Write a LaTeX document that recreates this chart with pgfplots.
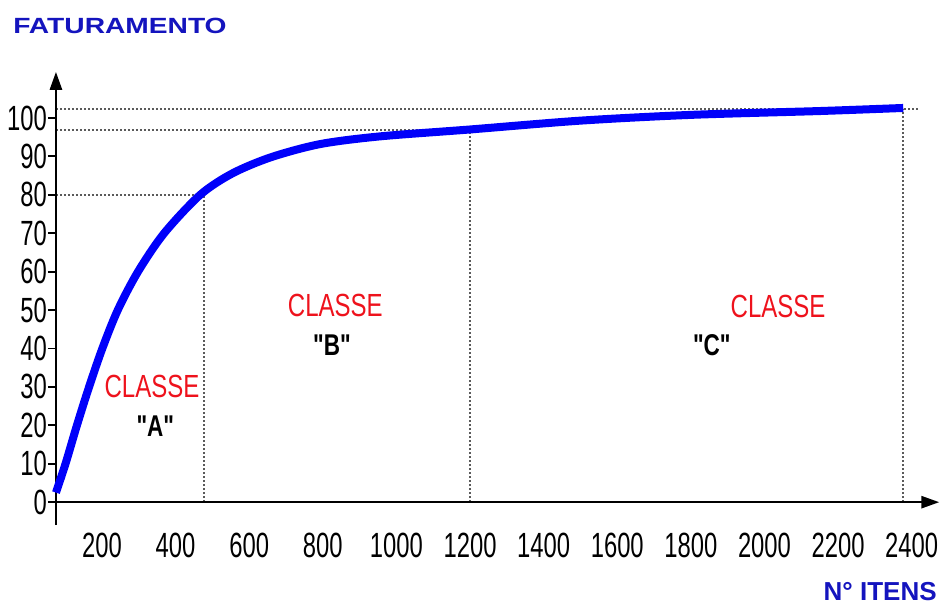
\documentclass[border=0pt]{standalone}
\usepackage{fontspec}
\setmainfont{Liberation Sans}
\newfontfamily\narrow[FakeStretch=0.68]{Liberation Sans}
\newfontfamily\classfont[FakeStretch=0.75]{Liberation Sans}
\newfontfamily\wide[FakeStretch=1.28]{Liberation Sans}
\usepackage{pgfplots}
\pgfplotsset{compat=1.18}
\usetikzlibrary{arrows.meta}
\definecolor{titleblue}{RGB}{20,20,190}
\definecolor{classred}{RGB}{238,18,28}
\definecolor{curveblue}{RGB}{0,0,250}
\definecolor{dotgray}{RGB}{90,90,90}

\begin{document}
\begin{tikzpicture}
  \begin{axis}[
      scale only axis,
      width=441.5pt, height=226.6pt,
      xmin=75, xmax=2475,
      ymin=-6, ymax=112,
      clip=false,
      axis line style={draw=none},
      xtick={200,400,...,2400},
      ytick={0,10,...,100},
      xtick style={draw=none},
      ytick pos=left,
      tick align=outside,
      major tick length=4pt,
      ytick style={line width=0.9pt, black},
      /pgf/number format/assume math mode=true,
      /pgf/number format/1000 sep={},
      ticklabel style={font=\narrow\fontsize{17.5}{19}\selectfont},
      xticklabel style={yshift=3.5pt},
      yticklabel style={xshift=3pt},
    ]
    % guide lines
    \addplot[dotgray, densely dotted, line width=1pt] coordinates {(75,102.3) (2418,102.3)};
    \addplot[dotgray, densely dotted, line width=1pt] coordinates {(75,96.9) (1200,96.9)};
    \addplot[dotgray, densely dotted, line width=1pt] coordinates {(75,80) (477,80)};
    \addplot[dotgray, densely dotted, line width=1pt] coordinates {(477,0) (477,80)};
    \addplot[dotgray, densely dotted, line width=1pt] coordinates {(1200,0) (1200,96.9)};
    \addplot[dotgray, densely dotted, line width=1pt] coordinates {(2377,0) (2377,102.3)};

    % axes
    \draw[line width=1.3pt, -{Triangle[width=6pt,length=9pt]}] (axis cs:75,-6) -- (axis cs:75,112);
    \draw[line width=1.3pt, -{Triangle[width=6pt,length=9pt]}] (axis cs:75,0) -- (axis cs:2475,0);

    % ABC curve
    \addplot[curveblue, line width=4pt, smooth] coordinates {
      (75,2.5) (101,10) (132,20) (165,30) (201,40) (243,50) (298,60)
      (369,70) (467,80) (555,85.6) (660,89.8) (793,93.2) (955,95.2)
      (1200,97) (1500,99.3) (1800,100.8) (2150,101.8) (2377,102.6)
    };

    \node[classred, font=\classfont\fontsize{16}{18}\selectfont, inner sep=0] at (axis cs:336,30) {CLASSE};
    \node[font=\classfont\bfseries\fontsize{15}{17}\selectfont, inner sep=0] at (axis cs:345,19.8) {"A"};
    \node[classred, font=\classfont\fontsize{16}{18}\selectfont, inner sep=0] at (axis cs:834,51.2) {CLASSE};
    \node[font=\classfont\bfseries\fontsize{15}{17}\selectfont, inner sep=0] at (axis cs:825,40.8) {"B"};
    \node[classred, font=\classfont\fontsize{16}{18}\selectfont, inner sep=0] at (axis cs:2037,50.9) {CLASSE};
    \node[font=\classfont\bfseries\fontsize{15}{17}\selectfont, inner sep=0] at (axis cs:1857,40.8) {"C"};

    \node[titleblue, anchor=west, inner sep=0, font=\wide\bfseries\fontsize{11}{13}\selectfont] at (axis cs:-42,124) {FATURAMENTO};
    \node[titleblue, anchor=east, inner sep=0, font=\bfseries\fontsize{13}{15}\selectfont] at (axis cs:2469,-23.3) {N° ITENS};

    \coordinate (bl) at (axis cs:-77,-27.6);
    \coordinate (tr) at (axis cs:2485,130.7);
  \end{axis}
  \pgfresetboundingbox
  \path[use as bounding box] (bl) rectangle (tr);
\end{tikzpicture}
\end{document}
